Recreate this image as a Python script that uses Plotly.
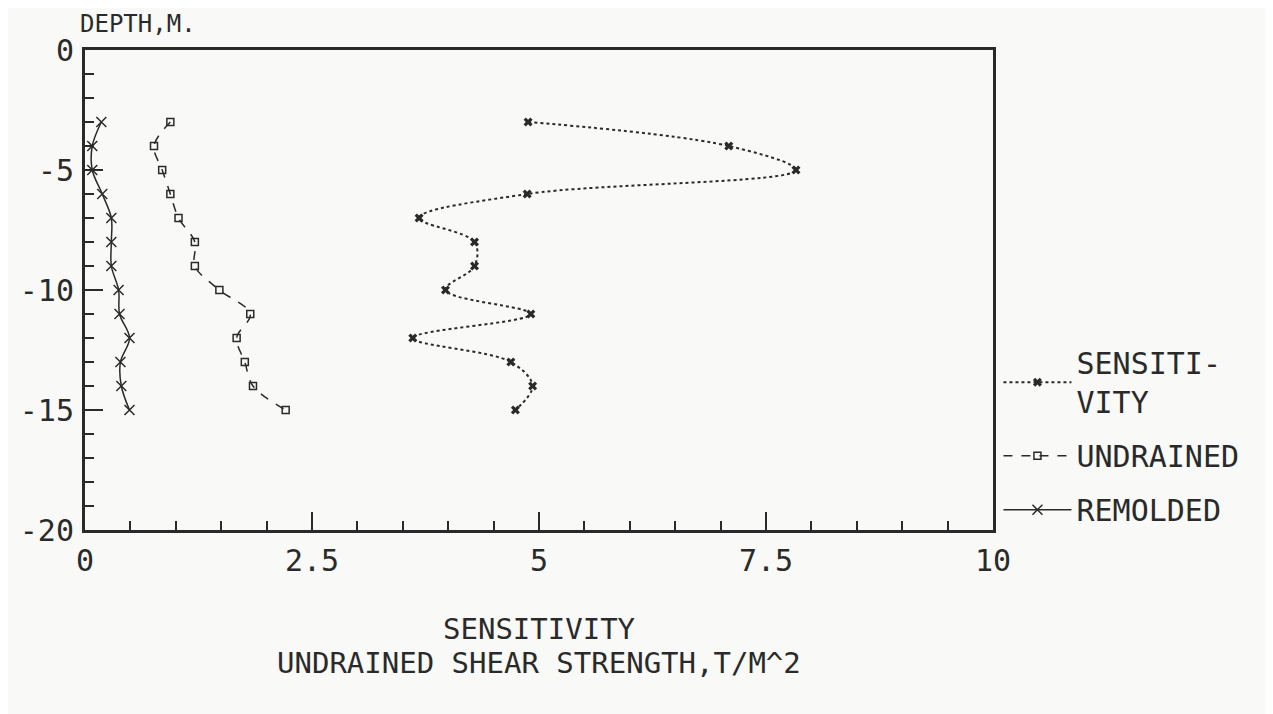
import plotly.graph_objects as go

# Data
depth = [-3, -4, -5, -6, -7, -8, -9, -10, -11, -12, -13, -14, -15]
sensitivity = [4.88, 7.09, 7.83, 4.87, 3.68, 4.29, 4.29, 3.97, 4.91, 3.61, 4.69, 4.93, 4.74]
undrained = [0.94, 0.76, 0.85, 0.94, 1.03, 1.21, 1.21, 1.48, 1.82, 1.67, 1.76, 1.85, 2.21]
remolded = [0.18, 0.08, 0.08, 0.19, 0.29, 0.29, 0.29, 0.37, 0.38, 0.49, 0.39, 0.40, 0.49]

x_ticks = [0, 2.5, 5, 7.5, 10]
x_tick_labels = ["0", "2.5", "5", "7.5", "10"]
y_ticks = [0, -5, -10, -15, -20]
y_tick_labels = ["0", "-5", "-10", "-15", "-20"]

FONT = "DejaVu Sans Mono"
INK = "#2a2a2a"
BG = "#f9f9f7"

fig = go.Figure()
fig.add_trace(go.Scatter(
    x=sensitivity, y=depth, name="SENSITI-<br>VITY", legendgroup="s",
    mode="lines+markers",
    line=dict(color=INK, width=2, dash="dot", shape="spline", smoothing=1.0),
    marker=dict(symbol="x", size=8, color=INK),
))
fig.add_trace(go.Scatter(
    x=undrained, y=depth, name="UNDRAINED", legendgroup="u",
    mode="lines+markers",
    line=dict(color=INK, width=1.5, dash="dash", shape="spline", smoothing=1.0),
    marker=dict(symbol="square-open", size=7, color=INK, line=dict(width=1.5, color=INK)),
))
fig.add_trace(go.Scatter(
    x=remolded, y=depth, name="REMOLDED", legendgroup="r",
    mode="lines+markers",
    line=dict(color=INK, width=1.5, shape="spline", smoothing=1.0),
    marker=dict(symbol="x-thin-open", size=10, color=INK, line=dict(width=1.5, color=INK)),
))

fig.update_layout(
    width=1273, height=714,
    margin=dict(l=72, r=288, t=42, b=192),
    paper_bgcolor=BG, plot_bgcolor=BG,
    font=dict(family=FONT, size=30, color=INK),
    showlegend=True,
    legend=dict(
        x=1.006, xanchor="left", y=-0.012, yanchor="bottom",
        bgcolor="rgba(0,0,0,0)", font=dict(family=FONT, size=30, color=INK),
        itemwidth=68, traceorder="grouped", tracegroupgap=12,
    ),
    xaxis=dict(
        range=[0, 10], tickvals=x_ticks, ticktext=x_tick_labels,
        showgrid=False, zeroline=False,
        showline=True, linecolor=INK, linewidth=3, mirror=True,
        ticks="inside", ticklen=18, tickwidth=1.5, tickcolor=INK,
        minor=dict(dtick=0.5, ticks="inside", ticklen=9, tickwidth=1.5, tickcolor=INK, showgrid=False),
        tickfont=dict(family=FONT, size=30, color=INK),
        ticklabelstandoff=2,
    ),
    yaxis=dict(
        range=[-20, 0], tickvals=y_ticks, ticktext=y_tick_labels,
        showgrid=False, zeroline=False,
        showline=True, linecolor=INK, linewidth=3, mirror=True,
        ticks="inside", ticklen=18, tickwidth=1.5, tickcolor=INK,
        minor=dict(dtick=1, ticks="inside", ticklen=9, tickwidth=1.5, tickcolor=INK, showgrid=False),
        tickfont=dict(family=FONT, size=30, color=INK),
        ticklabelstandoff=2,
    ),
    annotations=[
        dict(text="DEPTH,M.", xref="paper", yref="paper", x=-0.008, y=1.0,
             xanchor="left", yanchor="bottom", yshift=10, showarrow=False,
             font=dict(family=FONT, size=24, color=INK)),
        dict(text="SENSITIVITY", xref="paper", yref="paper", x=0.5, y=0,
             xanchor="center", yanchor="middle", yshift=-99, showarrow=False,
             font=dict(family=FONT, size=29, color=INK)),
        dict(text="UNDRAINED SHEAR STRENGTH,T/M^2", xref="paper", yref="paper", x=0.5, y=0,
             xanchor="center", yanchor="middle", yshift=-133, showarrow=False,
             font=dict(family=FONT, size=29, color=INK)),
    ],
)

fig.write_html("out.html")
